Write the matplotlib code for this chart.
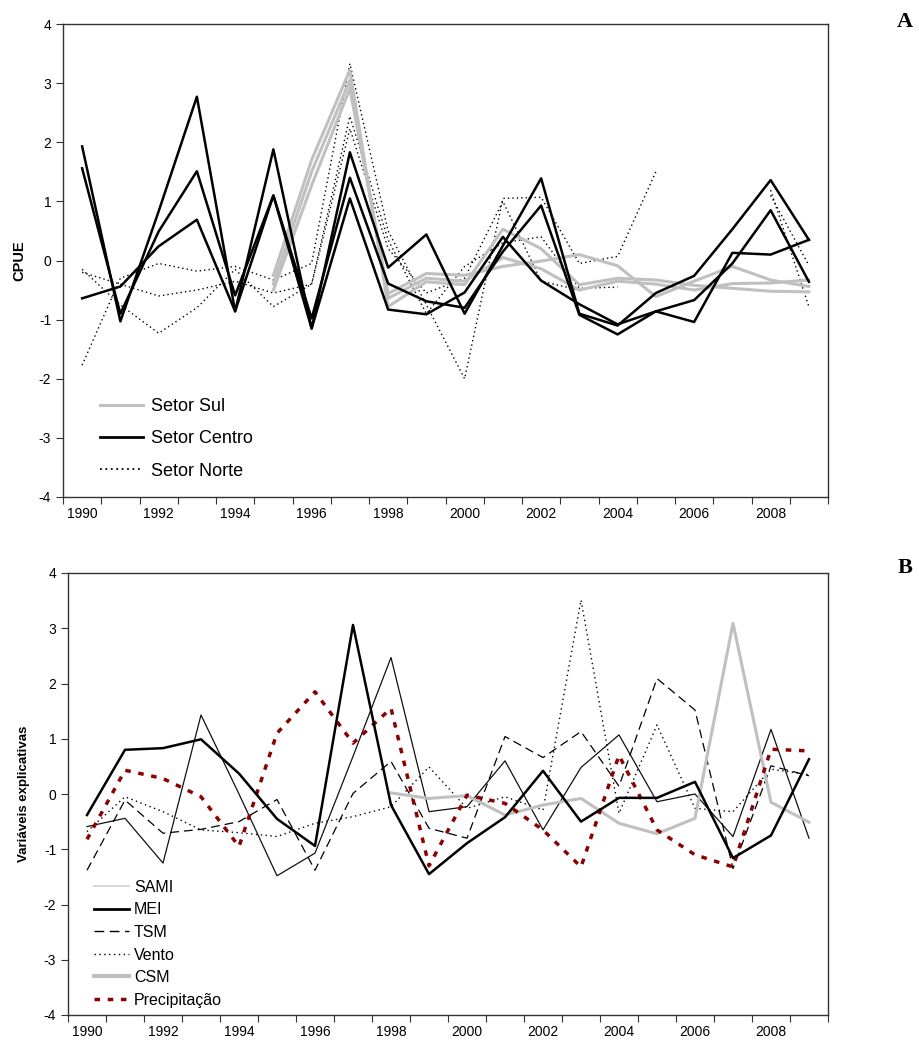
import numpy as np
import matplotlib
matplotlib.use("Agg")
import matplotlib.pyplot as plt
from matplotlib.lines import Line2D

plt.rcParams['font.family'] = ['Liberation Sans', 'DejaVu Sans']
plt.rcParams['axes.unicode_minus'] = False

years = list(range(1990, 2010))
nan = np.nan

# ---- Panel A: CPUE by sector (standardised) ----
sul_1 = [nan, nan, nan, nan, nan, -0.25, 1.70, 3.22, -0.78, -0.36, -0.41, 0.53, 0.20, -0.41, -0.30, -0.33, -0.42, -0.47, -0.52, -0.53]
sul_2 = [nan, nan, nan, nan, nan, -0.50, 1.27, 2.91, -0.56, -0.22, -0.25, -0.10, -0.01, 0.10, -0.09, -0.61, -0.35, -0.10, -0.33, -0.44]
sul_3 = [nan, nan, nan, nan, nan, -0.40, 1.50, 3.05, -0.64, -0.30, -0.35, 0.05, -0.14, -0.50, -0.35, -0.40, -0.50, -0.39, -0.38, -0.33]

centro_1 = [1.93, -1.03, 0.83, 2.77, -0.86, 1.88, -1.15, 1.83, -0.12, 0.44, -0.90, 0.25, 1.39, -0.90, -1.10, -0.55, -0.26, 0.53, 1.36, 0.35]
centro_2 = [1.56, -0.90, 0.49, 1.51, -0.59, 1.10, -0.98, 1.40, -0.39, -0.69, -0.80, 0.15, 0.93, -0.92, -1.25, -0.86, -0.67, -0.05, 0.85, -0.36]
centro_3 = [-0.64, -0.44, 0.24, 0.69, -0.86, 1.10, -1.15, 1.05, -0.83, -0.91, -0.54, 0.40, -0.34, -0.74, -1.08, -0.86, -1.04, 0.13, 0.10, 0.35]

norte_1 = [-1.77, -0.30, -0.05, -0.18, -0.10, -0.33, -0.05, 3.33, 0.50, -0.75, -2.00, 1.05, 1.07, -0.05, 0.07, 1.50, nan, nan, 1.19, -0.78]
norte_2 = [-0.15, -0.75, -1.23, -0.80, -0.15, -0.78, -0.40, 2.44, 0.35, -0.90, -0.10, 0.30, 0.40, -0.47, -0.45, nan, nan, nan, 1.10, -0.08]
norte_3 = [-0.20, -0.40, -0.60, -0.50, -0.35, -0.55, -0.40, 2.23, 0.20, -0.55, -0.30, 1.00, -0.35, -0.50, nan, nan, nan, nan, nan, nan]

# ---- Panel B: explanatory variables (standardised) ----
sami = [-0.59, -0.44, -1.25, 1.43, 0.00, -1.48, -1.07, 0.68, 2.47, -0.32, -0.23, 0.60, -0.65, 0.48, 1.07, -0.14, 0.00, -0.77, 1.17, -0.80]
mei = [-0.38, 0.80, 0.83, 0.99, 0.37, -0.45, -0.94, 3.06, -0.20, -1.45, -0.89, -0.42, 0.42, -0.50, -0.07, -0.07, 0.22, -1.16, -0.75, 0.63]
tsm = [-1.38, -0.11, -0.71, -0.64, -0.50, -0.10, -1.38, 0.01, 0.59, -0.62, -0.80, 1.04, 0.66, 1.13, 0.14, 2.09, 1.52, -1.35, 0.51, 0.33]
vento = [-0.68, -0.05, -0.32, -0.65, -0.70, -0.77, -0.53, -0.41, -0.23, 0.49, -0.26, -0.05, -0.29, 3.51, -0.35, 1.25, -0.26, -0.32, 0.45, 0.35]
csm = [nan, nan, nan, nan, nan, nan, nan, nan, 0.02, -0.08, -0.03, -0.38, -0.20, -0.08, -0.53, -0.72, -0.44, 3.09, -0.15, -0.51]
precip = [-0.82, 0.43, 0.28, -0.05, -0.95, 1.10, 1.85, 0.92, 1.55, -1.30, -0.02, -0.17, -0.65, -1.32, 0.70, -0.65, -1.10, -1.32, 0.81, 0.78]

year_labels = [str(y) for y in years[::2]]

W, H = 919, 1045
fig = plt.figure(figsize=(W / 100, H / 100), dpi=100)

def frac_axes(l, t, r, b):
    return fig.add_axes([l / W, 1 - b / H, (r - l) / W, (b - t) / H])

axA = frac_axes(63, 24, 828, 497)
axB = frac_axes(68, 573, 828, 1015)

x = np.arange(len(years))
GRAY = '#c0c0c0'

def style_axis(ax):
    ax.set_xlim(-0.5, len(years) - 0.5)
    ax.set_ylim(-4, 4)
    ax.set_yticks(range(-4, 5))
    ax.set_xticks(np.arange(-0.5, len(years), 1.0))
    ax.set_xticklabels([])
    ax.set_xticks(x[::2], minor=True)
    ax.set_xticklabels(year_labels, minor=True)
    ax.tick_params(axis='x', which='major', direction='out', length=5, width=0.8, color='#333333')
    ax.tick_params(axis='x', which='minor', length=0, labelsize=10, pad=7)
    ax.tick_params(axis='y', direction='out', length=5, width=0.8, color='#333333', labelsize=10)
    for s in ax.spines.values():
        s.set_color('#333333')
        s.set_linewidth(1.0)

# Panel A
for s in (norte_1, norte_2, norte_3):
    axA.plot(x, s, color='black', lw=1.0, ls=(0, (1, 2.2)))
for s in (sul_1, sul_2, sul_3):
    axA.plot(x, s, color=GRAY, lw=2.2)
for s in (centro_1, centro_2, centro_3):
    axA.plot(x, s, color='black', lw=1.8)
style_axis(axA)
axA.set_ylabel('CPUE', fontsize=10.5, fontweight='bold', labelpad=9)

legA = [Line2D([], [], color=GRAY, lw=2.2),
        Line2D([], [], color='black', lw=2.0),
        Line2D([], [], color='black', lw=1.3, ls=(0, (1, 2)))]
axA.legend(legA, ['Setor Sul', 'Setor Centro', 'Setor Norte'], frameon=False,
           fontsize=13, loc='upper left', bbox_to_anchor=(91 / W, 1 - 389 / H),
           bbox_transform=fig.transFigure, borderpad=0, handlelength=2.4,
           handletextpad=0.4, labelspacing=0.85)

# Panel B
axB.plot(x, sami, color='#111111', lw=0.9)
axB.plot(x, tsm, color='black', lw=0.9, ls=(0, (7, 4)))
axB.plot(x, vento, color='black', lw=1.0, ls=(0, (1, 2.5)))
axB.plot(x, csm, color=GRAY, lw=2.2)
axB.plot(x, precip, color='#8b0000', lw=2.5, ls=(0, (1.6, 2.2)))
axB.plot(x, mei, color='black', lw=1.8)
style_axis(axB)
axB.set_ylabel('Variáveis explicativas', fontsize=9.5, fontweight='bold', labelpad=10)

legB = [Line2D([], [], color='#cfcfcf', lw=1.2),
        Line2D([], [], color='black', lw=2.0),
        Line2D([], [], color='black', lw=1.0, ls=(0, (7, 4))),
        Line2D([], [], color='black', lw=1.0, ls=(0, (1, 2.5))),
        Line2D([], [], color=GRAY, lw=3.0),
        Line2D([], [], color='#8b0000', lw=2.5, ls=(0, (1.6, 2.2)))]
axB.legend(legB, ['SAMI', 'MEI', 'TSM', 'Vento', 'CSM', 'Precipitação'], frameon=False,
           fontsize=11.5, loc='upper left', bbox_to_anchor=(86 / W, 1 - 872 / H),
           bbox_transform=fig.transFigure, borderpad=0, handlelength=2.2,
           handletextpad=0.3, labelspacing=0.47)

# Panel letters
fig.text(905 / W, 1 - 22 / H, 'A', fontsize=16, fontweight='bold',
         family=['Liberation Serif', 'DejaVu Serif'], ha='center', va='center')
fig.text(905 / W, 1 - 568 / H, 'B', fontsize=16, fontweight='bold',
         family=['Liberation Serif', 'DejaVu Serif'], ha='center', va='center')

fig.savefig('out.png', dpi=100)
